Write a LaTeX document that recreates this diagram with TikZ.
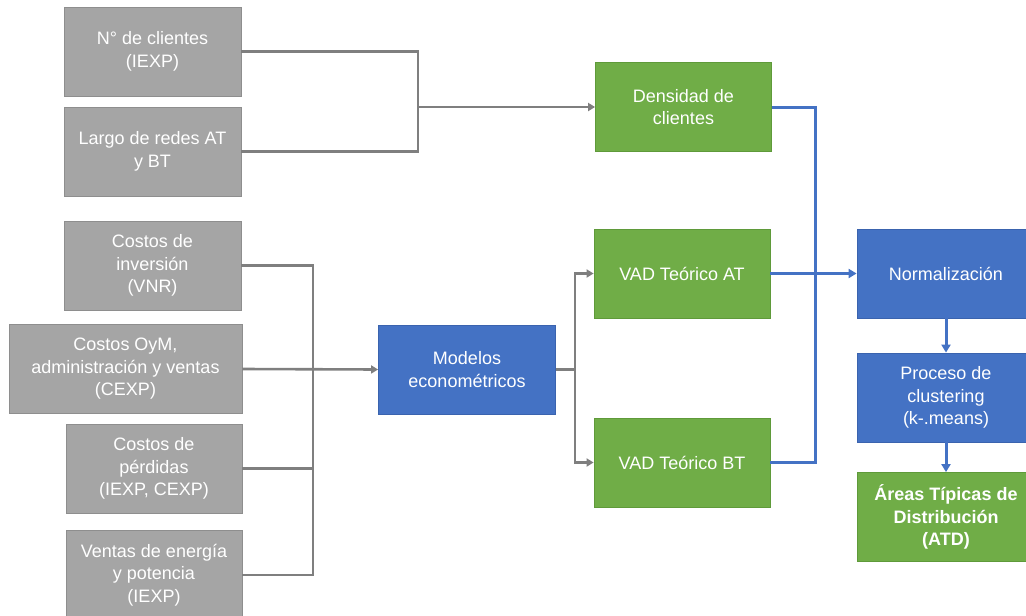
\documentclass[tikz,border=0pt]{standalone}
\usepackage{fontspec}
\setmainfont{Liberation Sans}
\usetikzlibrary{arrows.meta}
\definecolor{boxgray}{HTML}{A5A5A5}
\definecolor{boxgrayline}{HTML}{8E8E8E}
\definecolor{boxgreen}{HTML}{70AD47}
\definecolor{boxgreenline}{HTML}{5F9A3A}
\definecolor{boxblue}{HTML}{4472C4}
\definecolor{boxblueline}{HTML}{3A63AE}
\definecolor{linkgray}{HTML}{7F7F7F}
\tikzset{
  box/.style={minimum height=89pt, inner sep=0pt, align=center, text=white,
    line width=0.8pt, font=\fontsize{18}{22.5}\selectfont},
  inbox/.style={box, fill=boxgray, draw=boxgrayline, minimum width=177pt},
  greenbox/.style={box, fill=boxgreen, draw=boxgreenline, minimum width=176pt},
  bluebox/.style={box, fill=boxblue, draw=boxblueline, minimum width=177pt},
  grayline/.style={draw=linkgray, line width=2.6pt},
  grayarrow/.style={grayline, -{Triangle[length=7pt,width=8pt]}},
  blueline/.style={draw=boxblue, line width=3pt},
  bluearrow/.style={blueline, -{Triangle[length=8pt,width=9pt]}}
}
\begin{document}
\begin{tikzpicture}[x=1pt,y=-1pt]
    \useasboundingbox (0,0) rectangle (1026,616);
    % inputs
    \node[inbox] (clientes) at (152.5,51.5) {N° de clientes\\(IEXP)};
    \node[inbox] (largo) at (152.5,151.5) {Largo de redes AT\\y BT};
    \node[inbox] (inversion) at (152.5,265.5) {Costos de\\inversión\\(VNR)};
    \node[inbox, minimum width=233pt] (oym) at (125.5,369) {Costos OyM,\\administración y ventas\\(CEXP)};
    \node[inbox, minimum width=176pt] (perdidas) at (154,468.5) {Costos de\\pérdidas\\(IEXP, CEXP)};
    \node[inbox, minimum width=176pt] (ventas) at (154,575) {Ventas de energía\\y potencia\\(IEXP)};
    % models and results
    \node[bluebox] (modelos) at (467,369.5) {Modelos\\econométricos};
    \node[greenbox] (densidad) at (683.5,107) {Densidad de\\clientes};
    \node[greenbox] (vadat) at (682,273.5) {VAD Teórico AT};
    \node[greenbox] (vadbt) at (682,462.5) {VAD Teórico BT};
    \node[bluebox, minimum width=178pt] (normal) at (946,273.5) {Normalización};
    \node[bluebox, minimum width=178pt] (proceso) at (946,397.5) {Proceso de\\clustering\\(k-.means)};
    \node[greenbox, minimum width=178pt, font=\fontsize{18}{22.5}\selectfont\bfseries] (atd) at (946,517) {Áreas Típicas de\\Distribución\\(ATD)};
    % junctions
    \coordinate (jA) at (418,107);
    \coordinate (jB) at (313,369);
    \coordinate (jC) at (575,369.5);
    \coordinate (jD) at (815,273.5);
    % gray connectors
    \draw[grayline] (clientes.east) -| (jA) |- (largo.east);
    \draw[grayarrow] (jA) -- (densidad.west);
    \draw[grayline] (inversion.east) -| (jB) |- (ventas.east);
    \draw[grayline] (perdidas.east) -- (perdidas.east -| jB);
    \draw[grayarrow] (oym.east) -- (modelos.west);
    \draw[grayline] (modelos.east) -- (jC);
    \draw[grayarrow] (jC) |- (vadat.west);
    \draw[grayarrow] (jC) |- (vadbt.west);
    % blue connectors
    \draw[blueline] (densidad.east) -| (jD) |- (vadbt.east);
    \draw[bluearrow] (vadat.east) -- (normal.west);
    \draw[bluearrow] (normal) -- (proceso);
    \draw[bluearrow] (proceso) -- (atd);
\end{tikzpicture}
\end{document}
